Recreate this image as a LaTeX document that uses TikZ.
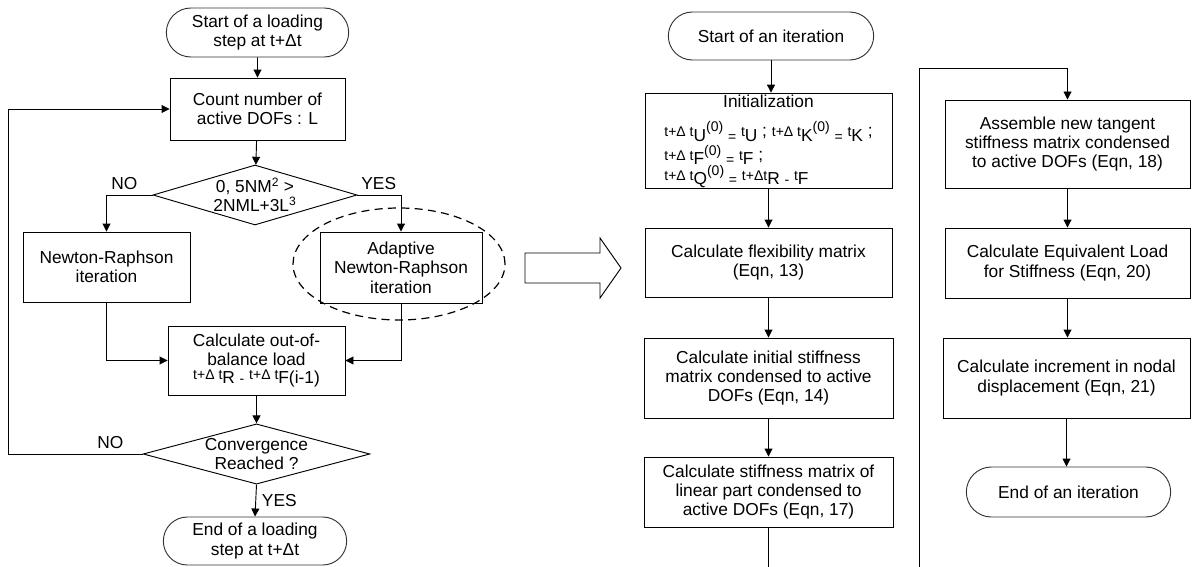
\documentclass[tikz,border=0pt]{standalone}
\usepackage{fontspec}
\setmainfont{Liberation Sans}
\usetikzlibrary{arrows.meta,shapes.geometric,shapes.misc}
\newcommand{\mainfs}{\fontsize{13}{14.5}\selectfont}
\newcommand{\sm}[1]{{\fontsize{10.5}{11}\selectfont #1}}
\newcommand{\lo}[1]{\raisebox{-0.45ex}{#1}}
\newcommand{\hi}[1]{\raisebox{0.55ex}{\sm{#1}}}
\newcommand{\tdt}{\sm{t+Δ t}}
\tikzset{
  term/.style={draw=black!80, rounded rectangle, font=\mainfs, align=center, inner sep=1pt},
  proc/.style={draw, rectangle, font=\mainfs, align=center, inner sep=2pt},
  dec/.style={draw, diamond, aspect=3.5, inner sep=0pt, font=\mainfs, align=center},
  arr/.style={-{Triangle[length=6pt,width=6pt]}},
  lbl/.style={font=\mainfs},
  ring/.style={draw, ellipse, dash pattern=on 6pt off 4pt, line width=0.9pt},
}
\begin{document}
\begin{tikzpicture}[x=0.75pt, y=-0.75pt, line width=0.7pt]
  \useasboundingbox (0,0) rectangle (1192,567);
  % loading step
  \node[term, minimum width=138.75pt, minimum height=36.75pt] (start1) at (257.5,32.5) {Start of a loading\\step at t+Δt};
  \node[proc, minimum width=131.25pt, minimum height=46.5pt] (count) at (257.5,109) {Count number of\\active DOFs : L};
  \node[dec, minimum width=153pt, minimum height=45pt] (dec1) at (255,195) {0, 5NM\textsuperscript{2} >\\2NML+3L\textsuperscript{3}};
  \node[proc, minimum width=125.25pt, minimum height=52.5pt] (newton) at (106.5,267) {Newton-Raphson\\iteration};
  \node[proc, minimum width=121.5pt, minimum height=53.25pt] (adapt) at (401,267.5) {Adaptive\\Newton-Raphson\\iteration};
  \node[ring, minimum width=159pt, minimum height=84pt] (zoomring) at (399,264) {};
  \node[proc, minimum width=132.75pt, minimum height=51.75pt] (calc1) at (256.5,360.5) {Calculate out-of-\\balance load\\[-4pt]
    \tdt\lo{R} \lo{\sm{-}} \tdt\lo{F}\lo{(i-1)}};
  \node[dec, aspect=3.6, minimum width=170pt, minimum height=43.5pt] (dec2) at (256.5,454) {Convergence\\Reached ?};
  \node[term, minimum width=139.5pt, minimum height=36pt] (end1) at (255,541) {End of a loading\\step at t+Δt};
  \coordinate (loopL) at (8,454);

  \draw[arr] (start1) -- (count);
  \draw[arr] (count) -- (dec1);
  \draw[arr] (dec1.west) -| node[lbl, pos=0.5, anchor=south west] (no1) {NO} (newton.north);
  \draw[arr] (dec1.east) -| node[lbl, pos=0.5, anchor=south east] (yes1) {YES} (adapt.north);
  \draw[arr] (newton.south) |- (calc1.west);
  \draw[arr] (adapt.south) |- (calc1.east);
  \draw[arr] (calc1) -- (dec2);
  \draw[arr] (dec2.west) -- node[lbl, pos=0.24, above] (no2) {NO} (loopL) |- (count.west);
  \draw[arr] (dec2.south) -- node[lbl, right, xshift=1pt] (yes2) {YES} (end1.north);

  % hollow arrow between the two charts
  \draw (525,253) -- (600,253) -- (600,238) -- (621,268) -- (600,298) -- (600,283) -- (525,283) -- cycle;

  % one iteration
  \node[term, minimum width=156pt, minimum height=36pt] (start2) at (771,36) {Start of an iteration};
  \node[proc, minimum width=185.25pt, minimum height=69pt, inner sep=1pt] (init) at (768.5,141) {%
    \begin{tabular}{@{}l@{}}
      \multicolumn{1}{@{}c@{}}{Initialization}\\[6pt]
      \tdt\lo{U}\hi{(0)} \lo{\sm{=}} \sm{t}\lo{U} ; \tdt\lo{K}\hi{(0)} \lo{\sm{=}} \sm{t}\lo{K} ;\\[2pt]
      \tdt\lo{F}\hi{(0)} \lo{\sm{=}} \sm{t}\lo{F} ;\\[-1pt]
      \tdt\lo{Q}\hi{(0)} \lo{\sm{=}} \sm{t+Δt}\lo{R} \lo{\sm{-}} \sm{t}\lo{F}
    \end{tabular}};
  \node[proc, minimum width=185.25pt, minimum height=51.75pt] (flex) at (768.5,262.5) {Calculate flexibility matrix\\(Eqn, 13)};
  \node[proc, minimum width=186.75pt, minimum height=60pt] (istiff) at (768.5,378) {Calculate initial stiffness\\matrix condensed to active\\DOFs (Eqn, 14)};
  \node[proc, minimum width=186.75pt, minimum height=52.5pt] (lstiff) at (768.5,492) {Calculate stiffness matrix of\\linear part condensed to\\active DOFs (Eqn, 17)};
  \coordinate (outB) at (768.5,567);
  \coordinate (retB) at (919,567);
  \coordinate (retT) at (919,68);
  \node[proc, minimum width=183.75pt, minimum height=66pt] (assem) at (1067.5,144) {Assemble new tangent\\stiffness matrix condensed\\to active DOFs (Eqn, 18)};
  \node[proc, minimum width=183.75pt, minimum height=52.5pt] (equiv) at (1067.5,263) {Calculate Equivalent Load\\for Stiffness (Eqn, 20)};
  \node[proc, minimum width=185.25pt, minimum height=60pt] (incr) at (1066.5,378) {Calculate increment in nodal\\displacement (Eqn, 21)};
  \node[term, minimum width=155.25pt, minimum height=37.5pt] (end2) at (1068.5,492) {End of an iteration};

  \draw[arr] (start2.south) -- (start2.south |- init.north);
  \draw[arr] (init.south) -- (init.south |- flex.north);
  \draw[arr] (flex) -- (istiff);
  \draw[arr] (istiff) -- (lstiff);
  \draw (lstiff.south) -- (outB);
  \draw[arr] (retB) -- (retT) -| (assem.north);
  \draw[arr] (assem) -- (equiv);
  \draw[arr] (equiv.south) -- (equiv.south |- incr.north);
  \draw[arr] (incr.south) -- (incr.south |- end2.north);
\end{tikzpicture}
\end{document}
